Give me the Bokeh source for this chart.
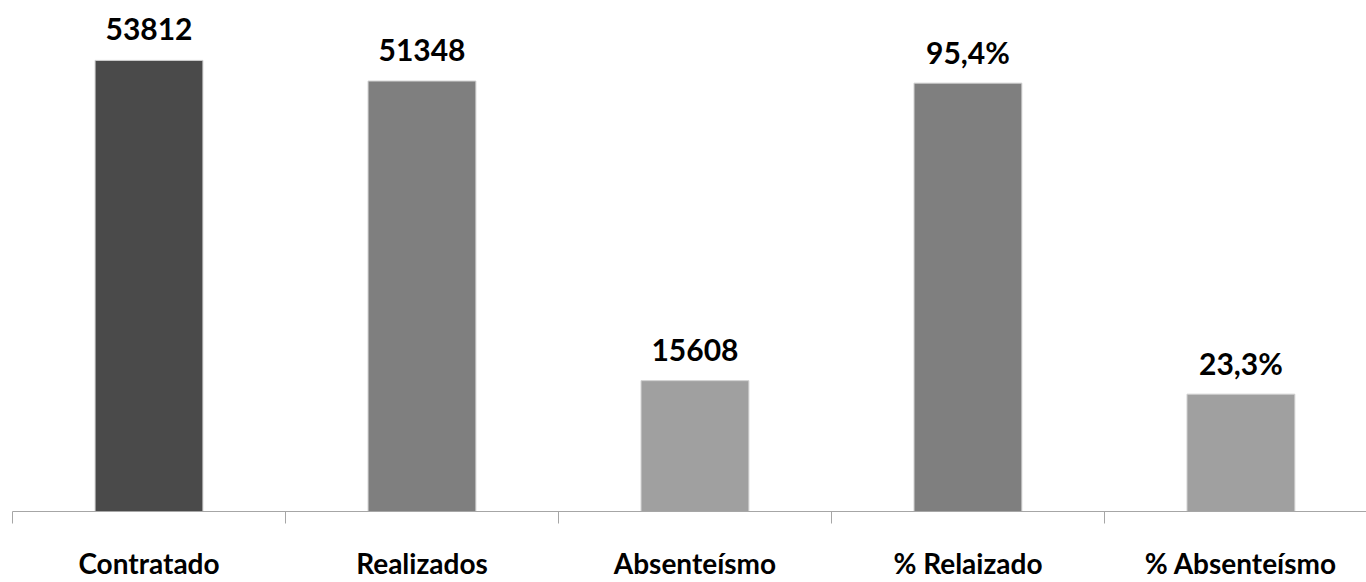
import numpy as np
from bokeh.plotting import figure
from bokeh.models import Range1d, FixedTicker, ColumnDataSource
from bokeh.core.properties import value
from bokeh.embed import file_html
from bokeh.resources import INLINE

# ---- data ----
categories = ["Contratado", "Realizados", "Absenteísmo", "% Relaizado", "% Absenteísmo"]
count_values = [53812, 51348, 15608]
pct_values = [95.4, 23.3]
count_labels = ["53812", "51348", "15608"]
pct_labels = ["95,4%", "23,3%"]
bar_colors = ["#4a4a4a", "#7f7f7f", "#a0a0a0", "#7f7f7f", "#a0a0a0"]

# ---- axis ranges ----
count_start, count_end = 0, 60000
pct_start, pct_end = -3.9, 112.7

FONT = "Lato"

n = len(categories)
xs = np.arange(n) + 0.5
nc = len(count_values)

p = figure(width=1366, height=582, output_backend="svg", toolbar_location=None,
           x_range=Range1d(0, 4.96), y_range=Range1d(count_start, count_end),
           min_border_left=12, min_border_right=0, min_border_top=8, min_border_bottom=56)
p.extra_y_ranges = {"pct": Range1d(pct_start, pct_end)}
p.outline_line_color = None
p.background_fill_color = "white"
p.border_fill_color = "white"
p.xgrid.visible = False
p.ygrid.visible = False
p.yaxis.visible = False

src_c = ColumnDataSource(dict(x=xs[:nc], top=count_values, color=bar_colors[:nc], label=count_labels))
src_p = ColumnDataSource(dict(x=xs[nc:], top=pct_values, color=bar_colors[nc:], label=pct_labels))

p.vbar(x="x", top="top", bottom=count_start, width=0.395, source=src_c,
       fill_color="color", line_color="#d0d0d0", line_width=1)
p.vbar(x="x", top="top", bottom=pct_start, width=0.395, source=src_p, y_range_name="pct",
       fill_color="color", line_color="#d0d0d0", line_width=1)

p.text(x="x", y="top", text="label", source=src_c, text_align="center",
       text_baseline="middle", y_offset=-31, text_font=value(FONT),
       text_font_style="bold", text_font_size="30px", text_color="black")
p.text(x="x", y="top", text="label", source=src_p, y_range_name="pct", text_align="center",
       text_baseline="middle", y_offset=-31, text_font=value(FONT),
       text_font_style="bold", text_font_size="30px", text_color="black")

xa = p.xaxis[0]
xa.ticker = FixedTicker(ticks=list(xs), minor_ticks=list(np.arange(n + 1)))
xa.major_label_overrides = {float(x): c for x, c in zip(xs, categories)}
xa.major_tick_out = 0
xa.major_tick_in = 0
xa.minor_tick_out = 12
xa.minor_tick_in = 0
xa.minor_tick_line_color = "#a6a6a6"
xa.axis_line_color = "#a6a6a6"
xa.axis_line_width = 1
xa.major_label_text_font = FONT
xa.major_label_text_font_style = "bold"
xa.major_label_text_font_size = "28px"
xa.major_label_text_color = "black"
xa.major_label_standoff = 22

open("out.html", "w").write(file_html(p, INLINE))
